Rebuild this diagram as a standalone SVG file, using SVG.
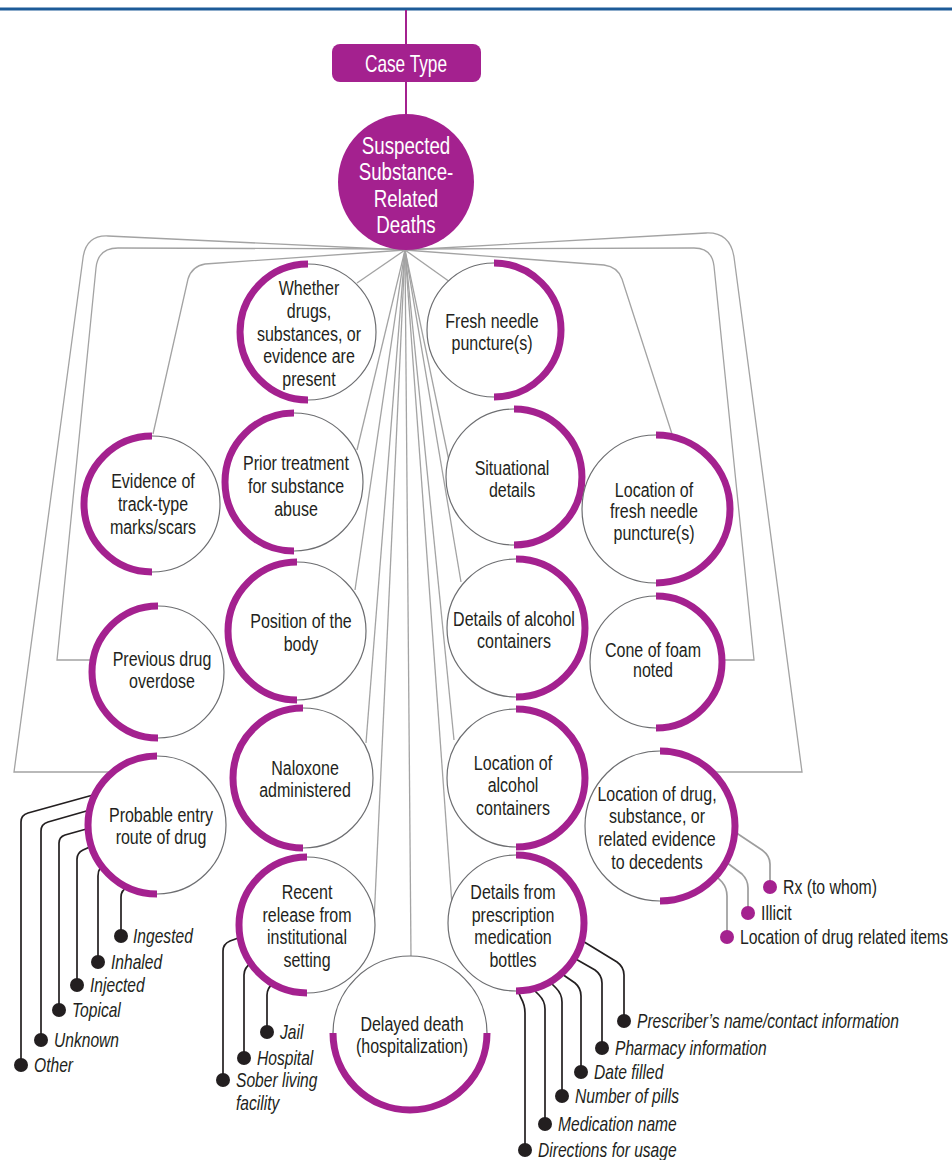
<svg xmlns="http://www.w3.org/2000/svg" width="952" height="1160" viewBox="0 0 952 1160">
<style>
text{font-family:"Liberation Sans",Arial,sans-serif;fill:#231f20}
.lbl{font-size:20px;text-anchor:middle}
.hub{font-size:24px;text-anchor:middle;fill:#ffffff}
.sub{font-size:20px;font-style:italic}
.sub2{font-size:20px}
.ring{fill:#ffffff;stroke:#6d6e71;stroke-width:1.2}
.arc{fill:none;stroke:#a4218f;stroke-width:7}
.fan{fill:none;stroke:#a3a3a3;stroke-width:1.3}
.blk{fill:none;stroke:#231f20;stroke-width:1.7}
.gry{fill:none;stroke:#9d9d9d;stroke-width:1.7}
.dk{fill:#231f20}
.pd{fill:#a4218f}
</style>
<rect x="0" y="7.5" width="952" height="3" fill="#1d5b98"/>
<g id="connectors">
<line x1="406" y1="10" x2="406" y2="44" stroke="#a4218f" stroke-width="2"/>
<line x1="406" y1="82" x2="406" y2="114" stroke="#a4218f" stroke-width="2"/>
<line class="fan" x1="405" y1="250" x2="357" y2="283"/>
<line class="fan" x1="405" y1="250" x2="450" y2="282"/>
<line class="fan" x1="405" y1="250" x2="357" y2="450"/>
<line class="fan" x1="405" y1="250" x2="449" y2="461"/>
<line class="fan" x1="405" y1="250" x2="355" y2="590"/>
<line class="fan" x1="405" y1="250" x2="461" y2="582"/>
<line class="fan" x1="405" y1="250" x2="366" y2="743"/>
<line class="fan" x1="405" y1="250" x2="454" y2="740"/>
<line class="fan" x1="405" y1="250" x2="374" y2="922"/>
<line class="fan" x1="405" y1="250" x2="452" y2="905"/>
<line class="fan" x1="405" y1="250" x2="411" y2="956"/>
<path class="fan" d="M405,250 L108,236 Q86,235 83,258 L14,772 L111,772"/>
<path class="fan" d="M405,249 L118,248 Q98,248 96,268 L57,660 L92,660"/>
<path class="fan" d="M405,250 L205,264 Q192,266 188,279 L153,434"/>
<path class="fan" d="M405,250 L706,233 Q730,232 734,257 L802,772 L712,772"/>
<path class="fan" d="M405,249 L694,248 Q712,248 714,266 L754,660 L722,660"/>
<path class="fan" d="M405,250 L604,265 Q618,267 622,279 L672,434"/>
<path class="blk" d="M93,795 L28,813 Q21,815 21,822 L21,1065"/>
<path class="blk" d="M90,810 L48,822 Q41,824 41,831 L41,1040"/>
<path class="blk" d="M90,828 L65,835 Q59,837 59,843 L59,1010"/>
<path class="blk" d="M92,846 L83,850 Q77,853 77,859 L77,985"/>
<path class="blk" d="M108,862 Q98,866 98,876 L98,962"/>
<path class="blk" d="M128,887 Q121,890 121,897 L121,936"/>
<path class="blk" d="M241,937 L230,941 Q223,944 223,951 L223,1080"/>
<path class="blk" d="M252,963 Q244,967 244,975 L244,1058"/>
<path class="blk" d="M273,984 Q267,988 267,995 L267,1032"/>
<path class="blk" d="M581,940 L617,962 Q624,967 624,975 L624,1021"/>
<path class="blk" d="M574,958 L595,970 Q602,975 602,983 L602,1048"/>
<path class="blk" d="M562,974 L575,983 Q581,988 581,996 L581,1072"/>
<path class="blk" d="M550,982 L556,988 Q562,994 562,1002 L562,1096"/>
<path class="blk" d="M533,989 L539,995 Q545,1001 545,1009 L545,1124"/>
<path class="blk" d="M518,991 L521,998 Q525,1005 525,1013 L525,1150"/>
<path class="gry" d="M735,832 L762,850 Q770,856 770,864 L770,887"/>
<path class="gry" d="M726,862 L742,874 Q748,880 748,888 L748,913"/>
<path class="gry" d="M716,876 L722,882 Q727,888 727,896 L727,937"/>
</g>
<g id="case-type">
<rect x="332" y="44" width="149" height="38" rx="8" fill="#a4218f"/>
<text class="hub" transform="matrix(0.75 0 0 1 406 0)" x="0" y="72" style="font-size:23px">Case Type</text>
</g>
<g id="hub">
<circle cx="406" cy="182" r="68" fill="#a4218f"/>
<text class="hub" transform="matrix(0.78 0 0 1 406 0)"><tspan x="0" y="154">Suspected</tspan><tspan x="0" y="180">Substance-</tspan><tspan x="0" y="207">Related</tspan><tspan x="0" y="233">Deaths</tspan></text>
</g>
<g id="n-whether">
<circle class="ring" cx="308" cy="332" r="68"/>
<path class="arc" d="M308,264 A68,68 0 0 0 308,400"/>
<text class="lbl" transform="matrix(0.8 0 0 1 309 0)"><tspan x="0" y="295">Whether</tspan><tspan x="0" y="318">drugs,</tspan><tspan x="0" y="341">substances, or</tspan><tspan x="0" y="363">evidence are</tspan><tspan x="0" y="386">present</tspan></text>
</g>
<g id="n-prior">
<circle class="ring" cx="294" cy="482" r="69"/>
<path class="arc" d="M294,413 A69,69 0 0 0 294,551"/>
<text class="lbl" transform="matrix(0.8 0 0 1 296 0)"><tspan x="0" y="470">Prior treatment</tspan><tspan x="0" y="493">for substance</tspan><tspan x="0" y="516">abuse</tspan></text>
</g>
<g id="n-position">
<circle class="ring" cx="297" cy="631" r="69"/>
<path class="arc" d="M297,562 A69,69 0 0 0 297,700"/>
<text class="lbl" transform="matrix(0.8 0 0 1 301 0)"><tspan x="0" y="628">Position of the</tspan><tspan x="0" y="651">body</tspan></text>
</g>
<g id="n-naloxone">
<circle class="ring" cx="303" cy="778" r="70"/>
<path class="arc" d="M303,708 A70,70 0 0 0 303,848"/>
<text class="lbl" transform="matrix(0.8 0 0 1 305 0)"><tspan x="0" y="775">Naloxone</tspan><tspan x="0" y="797">administered</tspan></text>
</g>
<g id="n-recent">
<circle class="ring" cx="307" cy="925" r="68"/>
<path class="arc" d="M307,857 A68,68 0 0 0 307,993"/>
<text class="lbl" transform="matrix(0.8 0 0 1 307 0)"><tspan x="0" y="899">Recent</tspan><tspan x="0" y="922">release from</tspan><tspan x="0" y="944">institutional</tspan><tspan x="0" y="967">setting</tspan></text>
</g>
<g id="n-evidence">
<circle class="ring" cx="152" cy="504" r="68"/>
<path class="arc" d="M152,436 A68,68 0 0 0 152,572"/>
<text class="lbl" transform="matrix(0.8 0 0 1 153 0)"><tspan x="0" y="488">Evidence of</tspan><tspan x="0" y="511">track-type</tspan><tspan x="0" y="534">marks/scars</tspan></text>
</g>
<g id="n-previous">
<circle class="ring" cx="158" cy="672" r="66"/>
<path class="arc" d="M158,606 A66,66 0 0 0 158,738"/>
<text class="lbl" transform="matrix(0.8 0 0 1 162 0)"><tspan x="0" y="666">Previous drug</tspan><tspan x="0" y="688">overdose</tspan></text>
</g>
<g id="n-probable">
<circle class="ring" cx="157" cy="825" r="69"/>
<path class="arc" d="M157,756 A69,69 0 0 0 157,894"/>
<text class="lbl" transform="matrix(0.8 0 0 1 161 0)"><tspan x="0" y="822">Probable entry</tspan><tspan x="0" y="844">route of drug</tspan></text>
</g>
<g id="n-fresh">
<circle class="ring" cx="494" cy="330" r="67"/>
<path class="arc" d="M494,263 A67,67 0 0 1 494,397"/>
<text class="lbl" transform="matrix(0.8 0 0 1 492 0)"><tspan x="0" y="328">Fresh needle</tspan><tspan x="0" y="350">puncture(s)</tspan></text>
</g>
<g id="n-situational">
<circle class="ring" cx="514" cy="477" r="68"/>
<path class="arc" d="M514,409 A68,68 0 0 1 514,545"/>
<text class="lbl" transform="matrix(0.8 0 0 1 512 0)"><tspan x="0" y="475">Situational</tspan><tspan x="0" y="497">details</tspan></text>
</g>
<g id="n-details-alcohol">
<circle class="ring" cx="516" cy="628" r="69"/>
<path class="arc" d="M516,559 A69,69 0 0 1 516,697"/>
<text class="lbl" transform="matrix(0.8 0 0 1 514 0)"><tspan x="0" y="626">Details of alcohol</tspan><tspan x="0" y="648">containers</tspan></text>
</g>
<g id="n-location-alcohol">
<circle class="ring" cx="516" cy="778" r="69"/>
<path class="arc" d="M516,709 A69,69 0 0 1 516,847"/>
<text class="lbl" transform="matrix(0.8 0 0 1 513 0)"><tspan x="0" y="770">Location of</tspan><tspan x="0" y="792">alcohol</tspan><tspan x="0" y="815">containers</tspan></text>
</g>
<g id="n-prescription">
<circle class="ring" cx="516" cy="923" r="68"/>
<path class="arc" d="M516,855 A68,68 0 0 1 516,991"/>
<text class="lbl" transform="matrix(0.8 0 0 1 513 0)"><tspan x="0" y="899">Details from</tspan><tspan x="0" y="922">prescription</tspan><tspan x="0" y="944">medication</tspan><tspan x="0" y="967">bottles</tspan></text>
</g>
<g id="n-location-fresh">
<circle class="ring" cx="656" cy="509" r="74"/>
<path class="arc" d="M656,435 A74,74 0 0 1 656,583"/>
<text class="lbl" transform="matrix(0.8 0 0 1 654 0)"><tspan x="0" y="497">Location of</tspan><tspan x="0" y="518">fresh needle</tspan><tspan x="0" y="540">puncture(s)</tspan></text>
</g>
<g id="n-cone">
<circle class="ring" cx="656" cy="662" r="66"/>
<path class="arc" d="M656,596 A66,66 0 0 1 656,728"/>
<text class="lbl" transform="matrix(0.8 0 0 1 653 0)"><tspan x="0" y="657">Cone of foam</tspan><tspan x="0" y="677">noted</tspan></text>
</g>
<g id="n-location-drug">
<circle class="ring" cx="660" cy="826" r="75"/>
<path class="arc" d="M660,751 A75,75 0 0 1 660,901"/>
<text class="lbl" transform="matrix(0.8 0 0 1 657 0)"><tspan x="0" y="801">Location of drug,</tspan><tspan x="0" y="823">substance, or</tspan><tspan x="0" y="846">related evidence</tspan><tspan x="0" y="869">to decedents</tspan></text>
</g>
<g id="n-delayed">
<circle class="ring" cx="410" cy="1033" r="77"/>
<path class="arc" d="M333,1033 A77,77 0 0 0 487,1033"/>
<text class="lbl" transform="matrix(0.8 0 0 1 412 0)"><tspan x="0" y="1031">Delayed death</tspan><tspan x="0" y="1053">(hospitalization)</tspan></text>
</g>
<g id="route-items">
<circle class="dk" cx="21" cy="1065" r="7"/><text class="sub" transform="matrix(0.78 0 0 1 34 0)" x="0" y="1072">Other</text>
<circle class="dk" cx="41" cy="1040" r="7"/><text class="sub" transform="matrix(0.78 0 0 1 54 0)" x="0" y="1047">Unknown</text>
<circle class="dk" cx="59" cy="1010" r="7"/><text class="sub" transform="matrix(0.78 0 0 1 72 0)" x="0" y="1017">Topical</text>
<circle class="dk" cx="77" cy="985" r="7"/><text class="sub" transform="matrix(0.78 0 0 1 90 0)" x="0" y="992">Injected</text>
<circle class="dk" cx="98" cy="962" r="7"/><text class="sub" transform="matrix(0.78 0 0 1 111 0)" x="0" y="969">Inhaled</text>
<circle class="dk" cx="121" cy="936" r="7"/><text class="sub" transform="matrix(0.78 0 0 1 133 0)" x="0" y="943">Ingested</text>
</g>
<g id="release-items">
<circle class="dk" cx="223" cy="1080" r="7"/><text class="sub" transform="matrix(0.78 0 0 1 236 0)"><tspan x="0" y="1087">Sober living</tspan><tspan x="0" y="1110">facility</tspan></text>
<circle class="dk" cx="244" cy="1058" r="7"/><text class="sub" transform="matrix(0.78 0 0 1 257 0)" x="0" y="1065">Hospital</text>
<circle class="dk" cx="267" cy="1032" r="7"/><text class="sub" transform="matrix(0.78 0 0 1 280 0)" x="0" y="1039">Jail</text>
</g>
<g id="bottle-items">
<circle class="dk" cx="624" cy="1021" r="7"/><text class="sub" transform="matrix(0.78 0 0 1 637 0)" x="0" y="1028">Prescriber’s name/contact information</text>
<circle class="dk" cx="602" cy="1048" r="7"/><text class="sub" transform="matrix(0.78 0 0 1 615 0)" x="0" y="1055">Pharmacy information</text>
<circle class="dk" cx="581" cy="1072" r="7"/><text class="sub" transform="matrix(0.78 0 0 1 594 0)" x="0" y="1079">Date filled</text>
<circle class="dk" cx="562" cy="1096" r="7"/><text class="sub" transform="matrix(0.78 0 0 1 575 0)" x="0" y="1103">Number of pills</text>
<circle class="dk" cx="545" cy="1124" r="7"/><text class="sub" transform="matrix(0.78 0 0 1 558 0)" x="0" y="1131">Medication name</text>
<circle class="dk" cx="525" cy="1150" r="7"/><text class="sub" transform="matrix(0.78 0 0 1 538 0)" x="0" y="1157">Directions for usage</text>
</g>
<g id="drug-location-items">
<circle class="pd" cx="770" cy="887" r="7"/><text class="sub2" transform="matrix(0.79 0 0 1 783 0)" x="0" y="894">Rx (to whom)</text>
<circle class="pd" cx="748" cy="913" r="7"/><text class="sub2" transform="matrix(0.79 0 0 1 761 0)" x="0" y="920">Illicit</text>
<circle class="pd" cx="727" cy="937" r="7"/><text class="sub2" transform="matrix(0.79 0 0 1 740 0)" x="0" y="944">Location of drug related items</text>
</g>
</svg>
